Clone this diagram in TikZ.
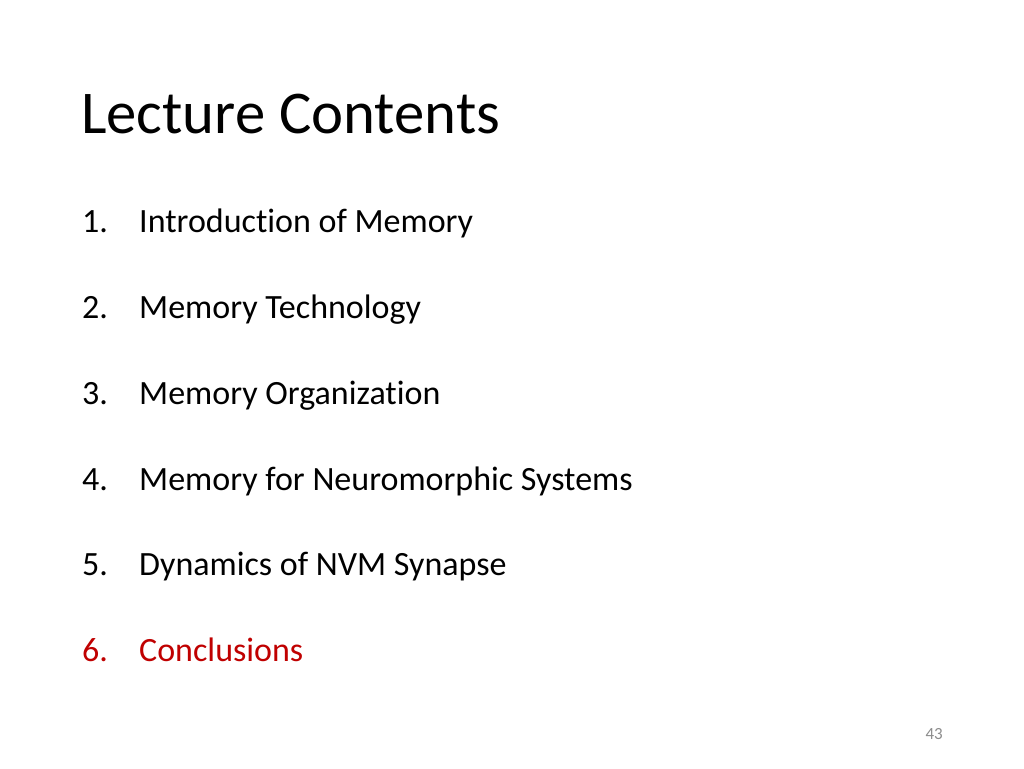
\documentclass[tikz,border=0pt]{standalone}
\usepackage{fontspec}
\setmainfont[Ligatures={NoCommon}]{Carlito}
\definecolor{slidered}{HTML}{C00000}
\definecolor{pagegrey}{HTML}{8C8C8C}
\begin{document}
\begin{tikzpicture}[x=1pt,y=-1pt,
  title/.style={anchor=base west,inner sep=0pt,font=\fontsize{60.7}{70}\selectfont},
  num/.style={anchor=base west,inner sep=0pt,font=\fontsize{34}{40}\selectfont},
  item/.style={anchor=base west,inner sep=0pt,font=\fontsize{34}{40}\selectfont}]
\useasboundingbox[fill=white] (0,0) rectangle (1024,768);
\node[title] (t) at (81,133) {Lecture Contents};
\node[num] (n1) at (82,232) {1.};
\node[item] (i1) at (139,232) {Introduction of Memory};
\node[num] (n2) at (82,318) {2.};
\node[item] (i2) at (139,318) {Memory Technology};
\node[num] (n3) at (82,404) {3.};
\node[item] (i3) at (139,404) {Memory Organization};
\node[num] (n4) at (82,490) {4.};
\node[item] (i4) at (139,490) {Memory for Neuromorphic Systems};
\node[num] (n5) at (82,575) {5.};
\node[item] (i5) at (139,575) {Dynamics of NVM Synapse};
\node[num,text=slidered] (n6) at (82,661) {6.};
\node[item,text=slidered] (i6) at (139,661) {Conclusions};
\node[anchor=base east,inner sep=0pt,text=pagegrey,font=\fontsize{17}{20}\selectfont] (pg) at (943,739) {43};
\end{tikzpicture}
\end{document}
